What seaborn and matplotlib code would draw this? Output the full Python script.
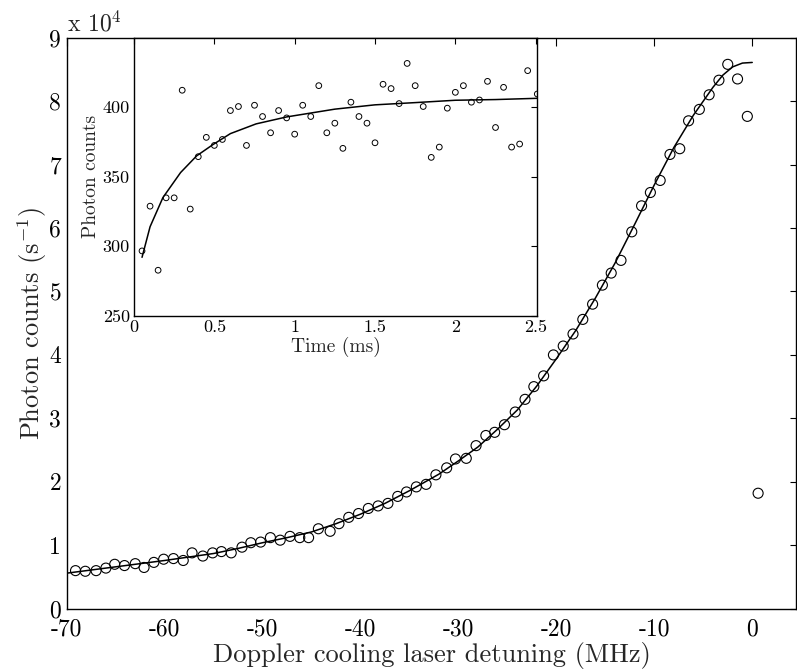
import numpy as np
import pandas as pd
import matplotlib
matplotlib.use("Agg")
import matplotlib.pyplot as plt
import seaborn as sns

# main plot: fluorescence vs detuning (counts in units of 1e4 s^-1)
detuning = [-69.1, -68.1, -67.0, -66.0, -65.1, -64.1, -63.0, -62.1, -61.1, -60.1,
            -59.1, -58.1, -57.2, -56.1, -55.1, -54.2, -53.2, -52.1, -51.2, -50.2,
            -49.2, -48.2, -47.2, -46.2, -45.3, -44.3, -43.1, -42.2, -41.2, -40.2,
            -39.2, -38.2, -37.2, -36.2, -35.3, -34.3, -33.3, -32.3, -31.2, -30.3,
            -29.2, -28.2, -27.2, -26.3, -25.3, -24.2, -23.2, -22.3, -21.3, -20.3,
            -19.3, -18.3, -17.3, -16.3, -15.3, -14.4, -13.4, -12.3, -11.3, -10.4,
            -9.4, -8.4, -7.4, -6.5, -5.4, -4.4, -3.4, -2.5, -1.5, -0.5, 0.6]
counts = [0.60, 0.59, 0.60, 0.64, 0.70, 0.68, 0.71, 0.65, 0.73, 0.78,
          0.79, 0.76, 0.88, 0.83, 0.88, 0.90, 0.88, 0.97, 1.04, 1.05,
          1.12, 1.08, 1.14, 1.12, 1.12, 1.26, 1.22, 1.34, 1.44, 1.50,
          1.58, 1.62, 1.66, 1.77, 1.84, 1.92, 1.96, 2.11, 2.22, 2.36,
          2.37, 2.57, 2.73, 2.78, 2.90, 3.10, 3.30, 3.50, 3.67, 4.00,
          4.14, 4.33, 4.56, 4.80, 5.10, 5.29, 5.49, 5.94, 6.35, 6.56,
          6.75, 7.16, 7.25, 7.69, 7.87, 8.10, 8.33, 8.58, 8.35, 7.76, 1.82]

fit_det = [-70, -65, -60, -55, -52.5, -50, -47.5, -45, -42.5, -40, -37.5, -35,
           -32, -30, -28, -26, -24, -22, -20, -18, -16, -14, -12, -10,
           -8, -6, -4, -3, -2, -1, 0]
fit_counts = [0.56, 0.66, 0.76, 0.87, 0.95, 1.04, 1.12, 1.21, 1.34, 1.49, 1.66, 1.86,
              2.12, 2.33, 2.55, 2.83, 3.13, 3.51, 3.94, 4.39, 4.90, 5.45, 6.06, 6.68,
              7.27, 7.78, 8.22, 8.41, 8.54, 8.60, 8.61]

x_ticks = [-70, -60, -50, -40, -30, -20, -10, 0]
x_labels = ["-70", "-60", "-50", "-40", "-30", "-20", "-10", "0"]
y_ticks = [0, 1, 2, 3, 4, 5, 6, 7, 8, 9]
y_labels = ["0", "1", "2", "3", "4", "5", "6", "7", "8", "9"]

# inset: photon counts vs time
time_ms = [0.05, 0.10, 0.15, 0.20, 0.25, 0.30, 0.35, 0.40, 0.45, 0.50,
           0.55, 0.60, 0.65, 0.70, 0.75, 0.80, 0.85, 0.90, 0.95, 1.00,
           1.05, 1.10, 1.15, 1.20, 1.25, 1.30, 1.35, 1.40, 1.45, 1.50,
           1.55, 1.60, 1.65, 1.70, 1.75, 1.80, 1.85, 1.90, 1.95, 2.00,
           2.05, 2.10, 2.15, 2.20, 2.25, 2.30, 2.35, 2.40, 2.45, 2.51]
photons = [296.6, 328.8, 282.7, 334.8, 334.8, 412.2, 326.7, 364.4, 378.3, 372.5,
           376.8, 397.6, 400.5, 372.5, 401.4, 393.3, 381.6, 397.6, 392.3, 380.6,
           401.4, 393.3, 415.5, 381.6, 388.5, 370.4, 403.6, 393.3, 388.5, 374.4,
           416.5, 413.4, 402.6, 431.5, 415.5, 400.5, 363.9, 371.3, 399.3, 410.7,
           415.5, 403.6, 405.2, 418.6, 385.4, 414.3, 371.3, 373.5, 426.3, 409.5]
fit_time = [0.05, 0.10, 0.18, 0.29, 0.39, 0.49, 0.60, 0.76, 0.95, 1.25, 1.50, 1.75, 2.00, 2.25, 2.51]
fit_photons = [292, 314, 335, 353, 365, 373, 381, 388, 393, 398.6, 401.7, 403.3, 405.0, 405.5, 406.4]

inset_xticks = [0, 0.5, 1, 1.5, 2, 2.5]
inset_xlabels = ["0", "0.5", "1", "1.5", "2", "2.5"]
inset_yticks = [250, 300, 350, 400]
inset_ylabels = ["250", "300", "350", "400"]

sns.set_theme(style="white")
plt.rcParams["font.family"] = ["cmr10", "DejaVu Serif"]
plt.rcParams["mathtext.fontset"] = "cm"
plt.rcParams["axes.unicode_minus"] = False
plt.rcParams["axes.edgecolor"] = "black"

fig = plt.figure(figsize=(7.97, 6.71), dpi=100)
W, H = 797.0, 671.0
ax = fig.add_axes([66.7 / W, (H - 608.7) / H, (796.3 - 66.7) / W, (608.7 - 37.7) / H])

main_df = pd.DataFrame({"det": detuning, "cnt": counts})
fit_df = pd.DataFrame({"det": fit_det, "cnt": fit_counts})
sns.lineplot(data=fit_df, x="det", y="cnt", color="black", linewidth=1.1, ax=ax)
sns.scatterplot(data=main_df, x="det", y="cnt", marker="o", s=52,
                facecolor="none", edgecolor="black", linewidth=0.8, ax=ax, zorder=3)

ax.set_xlim(-70, 4.5)
ax.set_ylim(0, 9)
ax.set_xticks(x_ticks)
ax.set_xticklabels(x_labels)
ax.set_yticks(y_ticks)
ax.set_yticklabels(y_labels)
ax.tick_params(axis="both", direction="in", top=True, right=True, labelsize=17,
               width=0.8, colors="black")
ax.tick_params(axis="x", length=6, pad=7)
ax.tick_params(axis="y", length=4.5, pad=4)
for sp in ax.spines.values():
    sp.set_linewidth(1.0)
    sp.set_color("black")
ax.set_xlabel("Doppler cooling laser detuning (MHz)", fontsize=19, labelpad=1)
ax.set_ylabel("Photon counts (s$^{-1}$)", fontsize=19, labelpad=0)
ax.text(0.0, 1.002, r"x 10$^{4}$", transform=ax.transAxes, fontsize=17,
        ha="left", va="bottom")

# inset
axi = fig.add_axes([134 / W, (H - 315.7) / H, (537.3 - 134) / W, (315.7 - 37.7) / H])
axi.set_facecolor("white")
ins_df = pd.DataFrame({"t": time_ms, "n": photons})
ins_fit = pd.DataFrame({"t": fit_time, "n": fit_photons})
sns.lineplot(data=ins_fit, x="t", y="n", color="black", linewidth=1.1, ax=axi)
sns.scatterplot(data=ins_df, x="t", y="n", marker="o", s=17,
                facecolor="none", edgecolor="black", linewidth=0.7, ax=axi, zorder=3)
axi.set_xlim(0, 2.51)
axi.set_ylim(250, 450)
axi.set_xticks(inset_xticks)
axi.set_xticklabels(inset_xlabels)
axi.set_yticks(inset_yticks)
axi.set_yticklabels(inset_ylabels)
axi.tick_params(axis="both", direction="in", top=True, right=True, labelsize=13,
                length=4, width=0.8, pad=3, colors="black")
for sp in axi.spines.values():
    sp.set_linewidth(1.0)
    sp.set_color("black")
axi.set_xlabel("Time (ms)", fontsize=14, labelpad=1)
axi.set_ylabel("Photon counts", fontsize=14, labelpad=2)

fig.savefig("out.png", dpi=100)
